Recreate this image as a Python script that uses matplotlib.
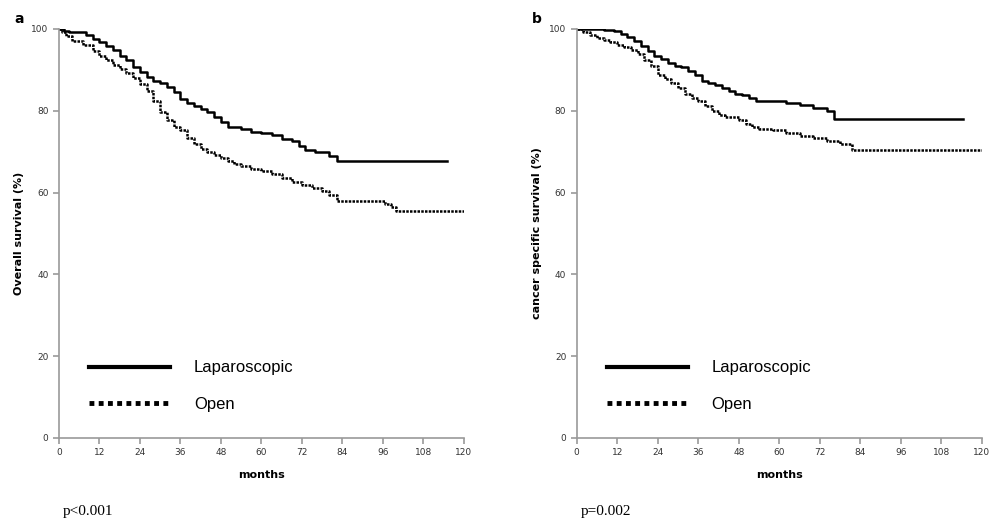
import numpy as np
from matplotlib import pyplot as plt
from matplotlib.lines import Line2D

# panel a: overall survival (months, %)
os_lap_t = [0, 1.5, 3, 8, 10, 12, 14, 16, 18, 20, 22, 24, 26, 28, 30, 32, 34, 36, 38, 40,
            42, 44, 46, 48, 50, 54, 57, 60, 63, 66, 69, 71, 73, 76, 80, 82.5, 115]
os_lap_s = [100, 99.5, 99.2, 98.5, 97.5, 96.8, 95.8, 94.8, 93.5, 92.3, 90.8, 89.5, 88.2, 87.3,
            86.8, 85.9, 84.5, 82.8, 81.8, 81.2, 80.5, 79.6, 78.5, 77.2, 76.1, 75.6, 74.9, 74.5,
            74.0, 73.2, 72.5, 71.3, 70.5, 69.9, 69.0, 67.6, 67.6]
os_open_t = [0, 1, 2, 4, 7, 10, 12, 14, 16, 18, 20, 22, 24, 26, 28, 30, 32, 34, 36, 38, 40,
             42, 44, 46, 48, 50, 52, 54, 57, 60, 63, 66, 69, 72, 75, 78, 80, 82.3, 96.6, 98.5,
             100, 120]
os_open_s = [100, 99.3, 98.2, 97.0, 96.0, 94.5, 93.3, 92.3, 91.2, 90.2, 89.2, 88.1, 86.5, 84.8,
             82.5, 79.8, 77.7, 76.0, 75.3, 73.4, 71.8, 70.6, 69.8, 69.2, 68.4, 67.6, 67.0, 66.5,
             65.8, 65.3, 64.6, 63.6, 62.7, 61.8, 61.0, 60.3, 59.5, 58.0, 57.2, 56.4, 55.4, 55.4]

# panel b: cancer specific survival
css_lap_t = [0, 8, 11, 13, 15, 17, 19, 21, 23, 25, 27, 29, 31, 33, 35, 37, 39, 41, 43, 45,
             47, 49, 51, 53, 58, 62, 66, 70, 74, 76.2, 114.5]
css_lap_s = [100, 99.8, 99.4, 98.8, 98.0, 97.0, 95.8, 94.5, 93.5, 92.6, 91.6, 91.0, 90.8, 89.8,
             88.8, 87.3, 86.8, 86.2, 85.5, 84.8, 84.2, 83.9, 83.1, 82.5, 82.3, 81.9, 81.5, 80.7,
             80.0, 78.0, 78.0]
css_open_t = [0, 2, 4, 6, 8, 10, 12, 14, 16, 18, 20, 22, 24, 26, 28, 30, 32, 34, 36, 38, 40,
              42, 44, 46, 48, 50, 52, 54, 58, 62, 66, 70, 74, 78, 81.4, 120]
css_open_s = [100, 99.2, 98.5, 97.8, 97.3, 96.8, 96.2, 95.5, 94.8, 93.8, 92.5, 91.0, 88.8, 87.8,
              86.8, 85.5, 84.1, 83.0, 82.5, 81.2, 79.9, 79.0, 78.5, 78.4, 77.8, 76.8, 76.0, 75.6,
              75.3, 74.6, 73.8, 73.3, 72.6, 71.9, 70.3, 70.3]

xticks = np.arange(0, 121, 12)
yticks = np.arange(0, 101, 20)


def draw_panel(ax, lap_t, lap_s, open_t, open_s, ylabel, tag, pval):
    ax.plot(lap_t, lap_s, color='black', lw=1.8, drawstyle='steps-post')
    ax.plot(open_t, open_s, color='black', lw=1.8, ls=(0, (1.0, 0.5)), drawstyle='steps-post')

    ax.set_xlim(0, 120)
    ax.set_ylim(0, 100)
    ax.set_xticks(xticks)
    ax.set_yticks(yticks)
    for s in ['top', 'right']:
        ax.spines[s].set_visible(False)
    for s in ['left', 'bottom']:
        ax.spines[s].set_color('#9a9a9a')
        ax.spines[s].set_linewidth(1.2)
    ax.tick_params(colors='#9a9a9a', length=4, width=1.2, labelsize=6.5, labelcolor='#333333')
    ax.set_xlabel('months', fontsize=8, fontweight='bold', labelpad=9)
    ax.set_ylabel(ylabel, fontsize=8, fontweight='bold', labelpad=5)

    handles = [Line2D([], [], color='black', lw=3),
               Line2D([], [], color='black', lw=3.5, ls=(0, (1.0, 0.9)))]
    ax.legend(handles, ['Laparoscopic', 'Open'], loc='lower left', bbox_to_anchor=(0.053, 0.043),
              frameon=False, borderpad=0, handlelength=4.9, handletextpad=1.4, labelspacing=1.3,
              prop={'family': 'Liberation Sans', 'size': 12})

    ax.text(-0.11, 1.025, tag, transform=ax.transAxes, fontsize=10, fontweight='bold',
            ha='left', va='center')
    ax.text(0.01, -0.18, pval, transform=ax.transAxes, fontsize=11, family='Liberation Serif',
            ha='left', va='center')


fig = plt.figure(figsize=(10.03, 5.22), dpi=100)
ax_a = fig.add_axes([0.0588, 0.161, 0.4038, 0.7835])
ax_b = fig.add_axes([0.575, 0.161, 0.404, 0.7835])

draw_panel(ax_a, os_lap_t, os_lap_s, os_open_t, os_open_s, 'Overall survival (%)', 'a', 'p<0.001')
draw_panel(ax_b, css_lap_t, css_lap_s, css_open_t, css_open_s, 'cancer specific survival (%)', 'b', 'p=0.002')

fig.savefig('out.png', dpi=100)
